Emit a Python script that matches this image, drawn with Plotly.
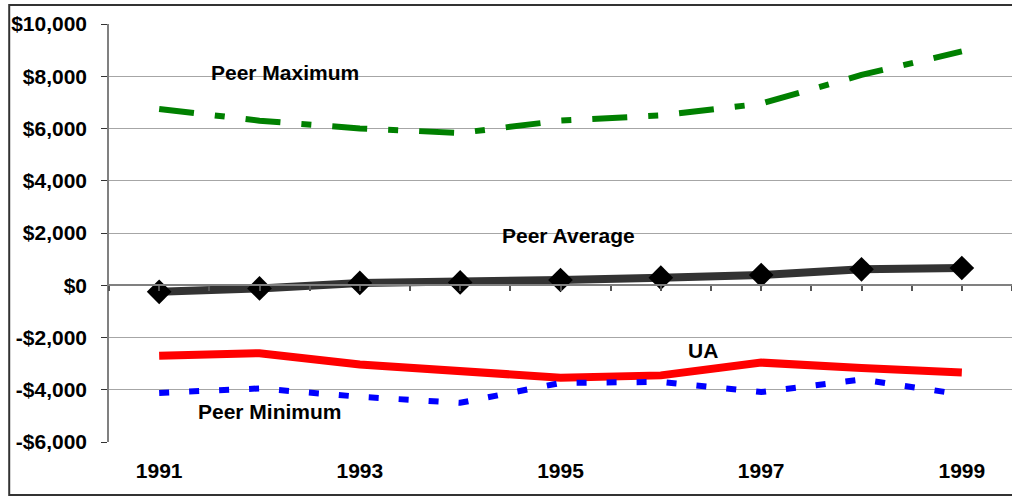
import plotly.graph_objects as go

years = [1991, 1992, 1993, 1994, 1995, 1996, 1997, 1998, 1999]
peer_max = [6750, 6300, 6000, 5830, 6300, 6500, 6950, 8050, 8950]
peer_avg = [-250, -120, 90, 110, 200, 290, 390, 610, 660]
ua = [-2700, -2600, -3030, -3250, -3540, -3450, -2960, -3170, -3340]
peer_min = [-4120, -3950, -4270, -4500, -3740, -3700, -4090, -3610, -4180]

y_ticks = [-6000, -4000, -2000, 0, 2000, 4000, 6000, 8000, 10000]
y_labels = ["-$6,000", "-$4,000", "-$2,000", "$0", "$2,000", "$4,000", "$6,000", "$8,000", "$10,000"]
x_label_years = [1991, 1993, 1995, 1997, 1999]
x_minor_ticks = [1990.5 + 0.5 * i for i in range(19)]

FONT = "Liberation Sans, Arial, sans-serif"

fig = go.Figure()
fig.add_trace(go.Scatter(x=years, y=peer_max, mode="lines", name="Peer Maximum",
                         line=dict(color="#008000", width=6, dash="35px,21px,10px,21px")))
fig.add_trace(go.Scatter(x=years, y=ua, mode="lines", name="UA",
                         line=dict(color="#ff0000", width=8)))
fig.add_trace(go.Scatter(x=years, y=peer_min, mode="lines", name="Peer Minimum",
                         line=dict(color="#0000ff", width=6, dash="10px,20px")))
fig.add_trace(go.Scatter(x=years, y=peer_avg, mode="lines+markers", name="Peer Average",
                         line=dict(color="#333333", width=8),
                         marker=dict(symbol="diamond", size=19, color="#000000")))
# invisible trace to keep the zero-crossing category axis alive
fig.add_trace(go.Scatter(x=years, y=[None] * len(years), xaxis="x2", showlegend=False,
                         hoverinfo="skip", mode="lines"))

labels = [
    ("Peer Maximum", 1992.25, 8150),
    ("Peer Average", 1995.08, 1900),
    ("UA", 1996.42, -2480),
    ("Peer Minimum", 1992.1, -4820),
]
for text, ax, ay in labels:
    fig.add_annotation(x=ax, y=ay, text=text, showarrow=False,
                       font=dict(family=FONT, size=21, color="#000", weight="bold"))

fig.add_shape(type="rect", xref="paper", yref="paper",
              x0=-0.1105, x1=1.02, y0=-0.1268, y1=1.0455,
              line=dict(color="#333333", width=2), fillcolor="rgba(0,0,0,0)", layer="above")

fig.update_layout(
    width=1012, height=496,
    margin=dict(l=109, r=0, t=24, b=54, autoexpand=False),
    paper_bgcolor="white", plot_bgcolor="white",
    showlegend=False,
    font=dict(family=FONT, size=21, color="#000"),
    xaxis=dict(range=[1990.5, 1999.5], tickvals=x_label_years,
               ticktext=[str(y) for y in x_label_years],
               showgrid=False, zeroline=False, showline=False, ticks="",
               ticklabelstandoff=14, automargin=False,
               tickfont=dict(family=FONT, size=21, weight="bold")),
    xaxis2=dict(range=[1990.5, 1999.5], overlaying="x", anchor="free", position=0.375,
                side="bottom", tickvals=x_minor_ticks, showticklabels=False,
                ticks="outside", ticklen=5, tickcolor="#555", tickwidth=1.5,
                showline=True, linecolor="#808080", linewidth=2, automargin=False,
                showgrid=False, zeroline=False),
    yaxis=dict(range=[-6000, 10000], tickvals=y_ticks, ticktext=y_labels,
               showgrid=True, gridcolor="#a6a6a6", gridwidth=1,
               zeroline=False, showline=True, linecolor="#808080", linewidth=1.5,
               ticks="outside", ticklen=6, tickcolor="#333",
               ticklabelstandoff=10, automargin=False,
               tickfont=dict(family=FONT, size=21, weight="bold")),
)

fig.write_html("out.html", config={"displayModeBar": False},
               post_script="document.body.style.margin='0';")
